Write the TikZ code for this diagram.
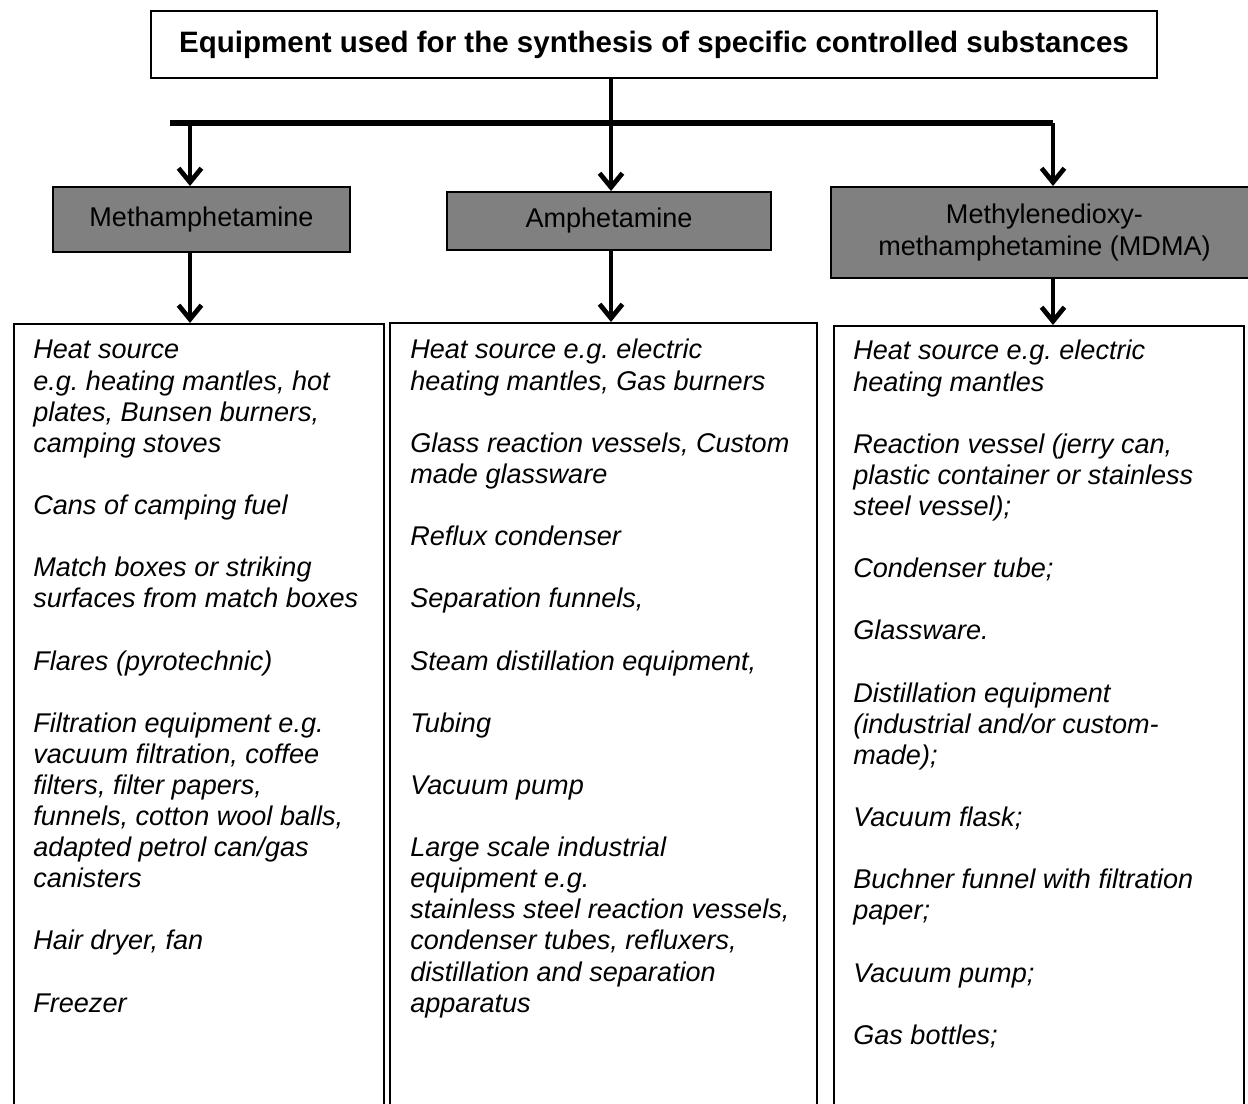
\documentclass[tikz,border=0pt]{standalone}
\usepackage{fontspec}
\setmainfont{Liberation Sans}
\usetikzlibrary{arrows.meta, positioning, calc}
\definecolor{drugGrey}{RGB}{128,128,128}
\def\gap{17.7pt}
\frenchspacing

\begin{document}
\begin{tikzpicture}[
  font=\fontsize{15.4}{17.7}\selectfont,
  titlebox/.style={draw, line width=1.1pt, minimum width=20.12cm, minimum height=1.34cm,
    font=\fontsize{16.8}{19}\selectfont\bfseries},
  drugbox/.style={draw, fill=drugGrey, line width=1.1pt, align=center},
  listbox/.style={draw, line width=1.1pt, anchor=north west, inner sep=0pt},
  listtext/.style={anchor=north west, align=left, inner sep=0pt,
    font=\fontsize{15.4}{17.7}\selectfont\itshape},
  feed/.style={line width=2.7pt, -{Straight Barb[length=8pt, width=13pt]}},
]
  \useasboundingbox (0,0) rectangle (24.96,-22.08);

  % Title
  \node[titlebox] (title) at (13.08,-0.89)
    {Equipment used for the synthesis of specific controlled substances};

  % Branch bus
  \coordinate (split) at (12.22,-2.46);
  \coordinate (methtap) at (3.80,-2.46);
  \coordinate (amphtap) at (12.22,-2.46);
  \coordinate (mdmatap) at (21.06,-2.46);
  \draw[line width=2pt] (title.south -| split) -- (split);
  \draw[line width=3pt] ($(methtap)+(-0.4,0)$) -- (mdmatap);

  % Substances
  \node[drugbox, minimum width=5.94cm, minimum height=1.30cm] (meth) at (4.03,-4.39)
    {Methamphetamine};
  \node[drugbox, minimum width=6.48cm, minimum height=1.16cm] (amph) at (12.18,-4.42)
    {Amphetamine};
  \node[drugbox, minimum width=8.54cm, minimum height=1.82cm] (mdma) at (20.89,-4.65)
    {Methylenedioxy-\\methamphetamine (MDMA)};

  \draw[feed] (methtap) -- (methtap |- meth.north);
  \draw[feed] (amphtap) -- (amphtap |- amph.north);
  \draw[feed] (mdmatap) -- (mdmatap |- mdma.north);

  % Equipment lists
  \node[listbox, minimum width=7.40cm, minimum height=16cm] (methlist) at (0.26,-6.46) {};
  \node[listbox, minimum width=8.54cm, minimum height=16cm] (amphlist) at (7.78,-6.44) {};
  \node[listbox, minimum width=8.20cm, minimum height=16cm] (mdmalist) at (16.66,-6.50) {};

  \draw[feed] (methtap |- meth.south) -- (methtap |- methlist.north);
  \draw[feed] (amphtap |- amph.south) -- (amphtap |- amphlist.north);
  \draw[feed] (mdmatap |- mdma.south) -- (mdmatap |- mdmalist.north);

  \node[listtext] (methitems) at ($(methlist.north west)+(0.40,-0.34)$) {%
    Heat source\\
    e.g. heating mantles, hot\\
    plates, Bunsen burners,\\
    camping stoves\\[\gap]
    Cans of camping fuel\\[\gap]
    Match boxes or striking\\
    surfaces from match boxes\\[\gap]
    Flares (pyrotechnic)\\[\gap]
    Filtration equipment e.g.\\
    vacuum filtration, coffee\\
    filters, filter papers,\\
    funnels, cotton wool balls,\\
    adapted petrol can/gas\\
    canisters\\[\gap]
    Hair dryer, fan\\[\gap]
    Freezer};

  \node[listtext] (amphitems) at ($(amphlist.north west)+(0.42,-0.34)$) {%
    Heat source e.g. electric\\
    heating mantles, Gas burners\\[\gap]
    Glass reaction vessels, Custom\\
    made glassware\\[\gap]
    Reflux condenser\\[\gap]
    Separation funnels,\\[\gap]
    Steam distillation equipment,\\[\gap]
    Tubing\\[\gap]
    Vacuum pump\\[\gap]
    Large scale industrial\\
    equipment e.g.\\
    stainless steel reaction vessels,\\
    condenser tubes, refluxers,\\
    distillation and separation\\
    apparatus};

  \node[listtext] (mdmaitems) at ($(mdmalist.north west)+(0.40,-0.30)$) {%
    Heat source e.g. electric\\
    heating mantles\\[\gap]
    Reaction vessel (jerry can,\\
    plastic container or stainless\\
    steel vessel);\\[\gap]
    Condenser tube;\\[\gap]
    Glassware.\\[\gap]
    Distillation equipment\\
    (industrial and/or custom-\\
    made);\\[\gap]
    Vacuum flask;\\[\gap]
    Buchner funnel with filtration\\
    paper;\\[\gap]
    Vacuum pump;\\[\gap]
    Gas bottles;};

\end{tikzpicture}
\end{document}
